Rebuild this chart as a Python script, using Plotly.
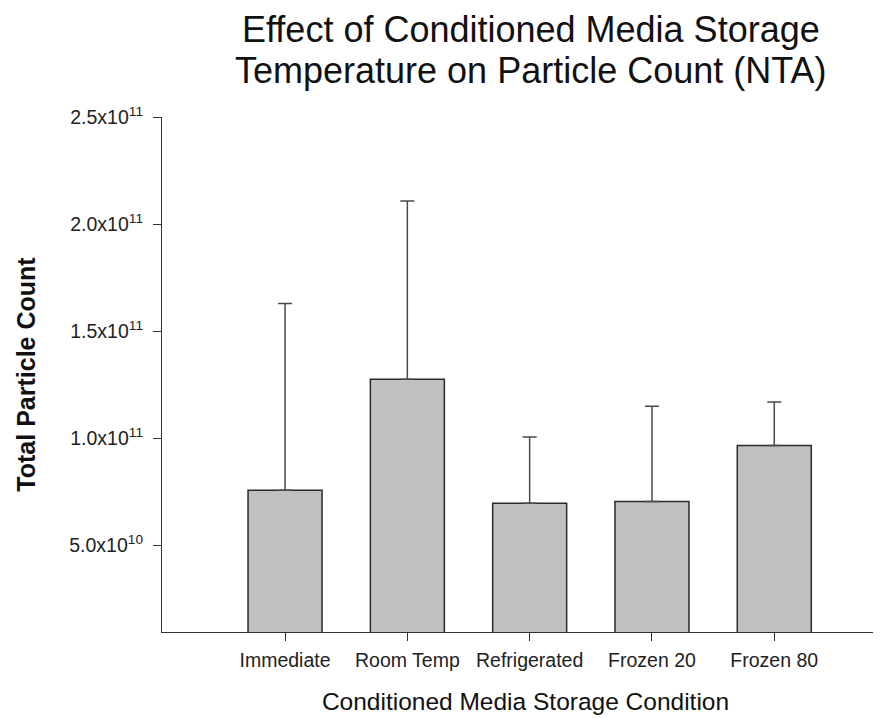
import plotly.graph_objects as go

categories = ["Immediate", "Room Temp", "Refrigerated", "Frozen 20", "Frozen 80"]
means = [7.57e10, 1.275e11, 6.96e10, 7.04e10, 9.66e10]
errors = [8.72e10, 8.33e10, 3.10e10, 4.45e10, 2.03e10]

ytick_vals = [5e10, 1e11, 1.5e11, 2e11, 2.5e11]
ytick_text = ["5.0x10<sup>10</sup>", "1.0x10<sup>11</sup>", "1.5x10<sup>11</sup>",
              "2.0x10<sup>11</sup>", "2.5x10<sup>11</sup>"]

title_lines = ["Effect of Conditioned Media Storage", "Temperature on Particle Count (NTA)"]

FONT = "Liberation Sans, Arial, sans-serif"

fig = go.Figure()
fig.add_trace(go.Bar(
    x=categories, y=means,
    width=0.605,
    marker=dict(color="#c0c0c0", line=dict(color="#2a2a2a", width=1.5)),
    error_y=dict(type="data", array=errors, symmetric=False, arrayminus=[0]*5,
                 color="#4a4a4a", thickness=1.5, width=7),
    showlegend=False,
))

# title as two annotation lines (plot area spans 515 px; top margin 109)
for line, yc in zip(title_lines, [22, 62]):
    fig.add_annotation(text=line, xref="paper", yref="paper",
                       x=(523 - 154) / 727, y=1 + (109 - yc) / 515,
                       xanchor="center", yanchor="middle", showarrow=False,
                       font=dict(size=36, color="#111111", family=FONT))

fig.update_layout(
    width=881, height=718,
    margin=dict(l=154, r=0, t=109, b=94),
    paper_bgcolor="white", plot_bgcolor="white",
    font=dict(family=FONT, color="#1a1a1a"),
    xaxis=dict(
        type="category",
        range=[-1.006, 4.938],
        showline=True, linecolor="#333333", linewidth=1.2,
        ticks="outside", ticklen=8, tickcolor="#333333", tickwidth=1.2,
        tickfont=dict(size=19.5, color="#222222"),
        ticklabelstandoff=2,
        showgrid=False, zeroline=False,
        title=dict(text="Conditioned Media Storage Condition",
                   font=dict(size=24.5, color="#111111"), standoff=23),
    ),
    yaxis=dict(
        range=[0.95e10, 2.5e11],
        tickvals=ytick_vals, ticktext=ytick_text,
        showline=True, linecolor="#333333", linewidth=1.2,
        ticks="outside", ticklen=8, tickcolor="#333333", tickwidth=1.2,
        tickfont=dict(size=19.5, color="#222222"),
        ticklabelstandoff=6,
        showgrid=False, zeroline=False,
        title=dict(text="<b>Total Particle Count</b>",
                   font=dict(size=25, color="#111111"), standoff=26),
    ),
)

fig.write_html("out.html")
